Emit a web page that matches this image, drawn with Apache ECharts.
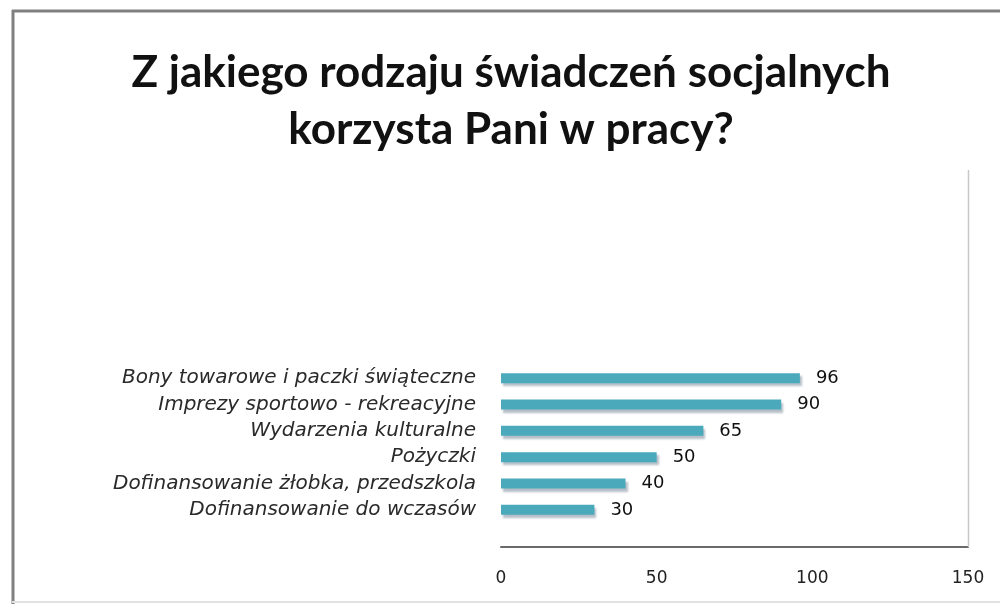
<!DOCTYPE html>
<html>
<head>
<meta charset="utf-8">
<script src="https://cdn.jsdelivr.net/npm/echarts@6/dist/echarts.min.js"></script>
<style>
  html, body { margin: 0; padding: 0; background: #fff; }
  #chart { width: 1000px; height: 612px; }
</style>
</head>
<body>
<div id="chart"></div>
<script>
// Survey: which social benefits are used at work
const titleText = 'Z jakiego rodzaju świadczeń socjalnych\nkorzysta Pani w pracy?';
const categories = [
  'Bony towarowe i paczki świąteczne',
  'Imprezy sportowo - rekreacyjne',
  'Wydarzenia kulturalne',
  'Pożyczki',
  'Dofinansowanie żłobka, przedszkola',
  'Dofinansowanie do wczasów'
];
const values = [96, 90, 65, 50, 40, 30];
const axisMax = 150;
const axisStep = 50;

const chart = echarts.init(document.getElementById('chart'), null, { renderer: 'canvas' });

chart.setOption({
  backgroundColor: '#ffffff',
  animation: false,
  title: {
    text: titleText,
    left: 506,
    textAlign: 'center',
    top: 39,
    textStyle: {
      fontFamily: 'Lato',
      fontWeight: 'bold',
      fontSize: 44,
      lineHeight: 57,
      color: '#111'
    }
  },
  graphic: [
    // outer frame
    { type: 'line', shape: { x1: 12, y1: 11, x2: 1000, y2: 11 }, style: { stroke: '#808080', lineWidth: 3 }, z: 10 },
    { type: 'line', shape: { x1: 13, y1: 10, x2: 13, y2: 604 }, style: { stroke: '#808080', lineWidth: 3 }, z: 10 },
    { type: 'line', shape: { x1: 12, y1: 602, x2: 1000, y2: 602 }, style: { stroke: '#e2e2e2', lineWidth: 2 }, z: 10 },
    // right edge of the plot area
    { type: 'line', shape: { x1: 968.5, y1: 170, x2: 968.5, y2: 547 }, style: { stroke: '#c8c8c8', lineWidth: 1.5 }, z: 10 }
  ],
  grid: {
    left: 501,
    right: 32,
    top: 365,
    bottom: 89,
    containLabel: false
  },
  xAxis: {
    type: 'value',
    min: 0,
    max: axisMax,
    interval: axisStep,
    offset: 24,
    axisLine: { show: true, lineStyle: { color: '#6a6a6a', width: 2 } },
    axisTick: { show: false },
    splitLine: { show: false },
    axisLabel: {
      margin: 23,
      fontFamily: 'DejaVu Sans',
      fontSize: 17,
      color: '#222'
    }
  },
  yAxis: {
    type: 'category',
    data: categories,
    inverse: true,
    axisLine: { show: false },
    axisTick: { show: false },
    axisLabel: {
      margin: 25,
      fontFamily: 'DejaVu Sans',
      fontStyle: 'italic',
      fontSize: 20,
      color: '#2a2a2a'
    }
  },
  series: [{
    type: 'bar',
    data: values,
    barWidth: 10,
    itemStyle: {
      color: '#4aaabb',
      shadowColor: 'rgba(90,110,130,0.45)',
      shadowBlur: 2,
      shadowOffsetY: 3,
      shadowOffsetX: 2
    },
    label: {
      show: true,
      position: 'right',
      distance: 16,
      fontFamily: 'DejaVu Sans',
      fontSize: 18,
      color: '#111'
    }
  }]
});
</script>
</body>
</html>
